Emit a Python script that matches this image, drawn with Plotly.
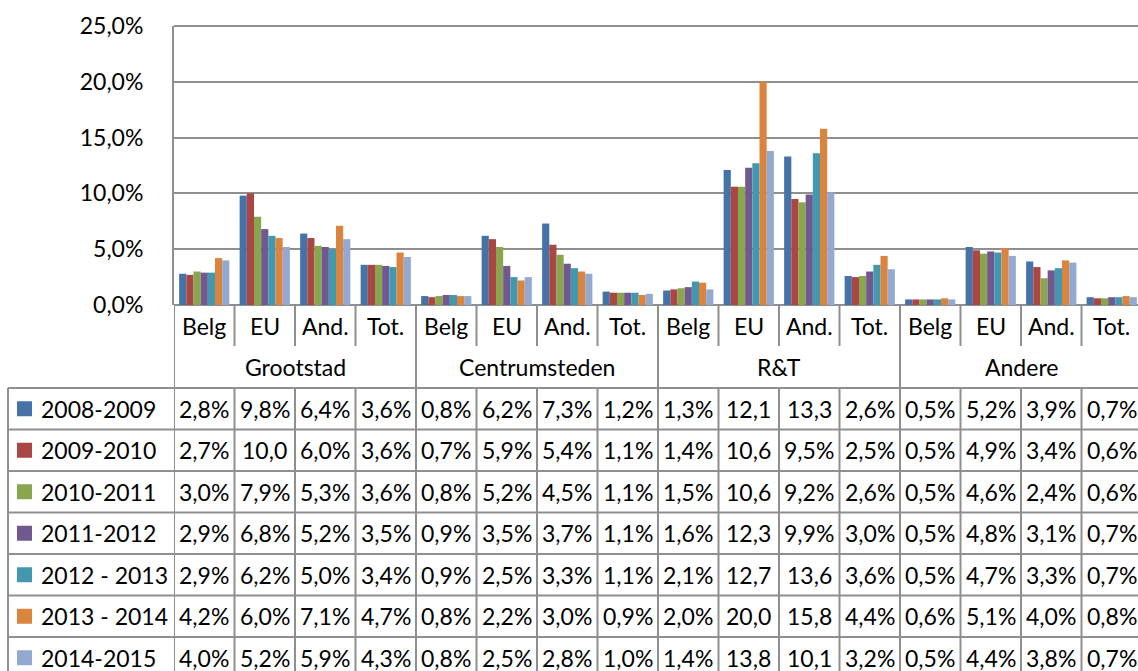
import plotly.graph_objects as go

# Data
groups = ["Grootstad", "Centrumsteden", "R&T", "Andere"]
subcats = ["Belg", "EU", "And.", "Tot."]
series_names = ["2008-2009", "2009-2010", "2010-2011", "2011-2012",
                "2012 - 2013", "2013 - 2014", "2014-2015"]

s2008 = [2.8, 9.8, 6.4, 3.6, 0.8, 6.2, 7.3, 1.2, 1.3, 12.1, 13.3, 2.6, 0.5, 5.2, 3.9, 0.7]
s2009 = [2.7, 10.0, 6.0, 3.6, 0.7, 5.9, 5.4, 1.1, 1.4, 10.6, 9.5, 2.5, 0.5, 4.9, 3.4, 0.6]
s2010 = [3.0, 7.9, 5.3, 3.6, 0.8, 5.2, 4.5, 1.1, 1.5, 10.6, 9.2, 2.6, 0.5, 4.6, 2.4, 0.6]
s2011 = [2.9, 6.8, 5.2, 3.5, 0.9, 3.5, 3.7, 1.1, 1.6, 12.3, 9.9, 3.0, 0.5, 4.8, 3.1, 0.7]
s2012 = [2.9, 6.2, 5.0, 3.4, 0.9, 2.5, 3.3, 1.1, 2.1, 12.7, 13.6, 3.6, 0.5, 4.7, 3.3, 0.7]
s2013 = [4.2, 6.0, 7.1, 4.7, 0.8, 2.2, 3.0, 0.9, 2.0, 20.0, 15.8, 4.4, 0.6, 5.1, 4.0, 0.8]
s2014 = [4.0, 5.2, 5.9, 4.3, 0.8, 2.5, 2.8, 1.0, 1.4, 13.8, 10.1, 3.2, 0.5, 4.4, 3.8, 0.7]
series_values = [s2008, s2009, s2010, s2011, s2012, s2013, s2014]

y_tickvals = [0, 5, 10, 15, 20, 25]
y_ticktext = ["0,0%", "5,0%", "10,0%", "15,0%", "20,0%", "25,0%"]

colors = ["#4572A7", "#AA4643", "#89A54E", "#71588F", "#4198AF", "#DB843D", "#93A9CF"]

FONT = "Lato, 'Open Sans', sans-serif"
FS = 23
LINE = "#8f8f8f"

# Pixel geometry (Excel layout)
W, H = 1138, 671
PL, PT, PB = 174, 26, 305          # plot left, top, bottom (px)
CAT_W = 60.5                        # category width (px)
ROW0, ROW_H = 388, 41.5             # data table top, row height


def py(p):
    return (PB - p) / (PB - PT)


def px(p):
    return (p - PL) / (W - PL)


def txt(**kw):
    d = dict(showarrow=False, yanchor="middle",
             font=dict(size=FS, family=FONT, color="black"))
    d.update(kw)
    return d


n = len(groups) * len(subcats)
xs = list(range(n))

fig = go.Figure()
for name, vals, c in zip(series_names, series_values, colors):
    fig.add_trace(go.Bar(x=xs, y=vals, name=name, marker_color=c,
                         marker_line_width=0, showlegend=False))


def fmt(v):
    s = f"{v:.1f}".replace(".", ",")
    return s if v >= 10 else s + "%"


shapes = []
annotations = []

# top gridline (at the range edge, would be clipped otherwise)
shapes.append(dict(type="line", xref="paper", yref="paper", x0=0, x1=1,
                   y0=1, y1=1, line=dict(color=LINE, width=2)))

# category + group labels
for i in xs:
    annotations.append(txt(x=i, y=py(326), xref="x", yref="paper", xanchor="center",
                           text=subcats[i % 4]))
for g, gname in enumerate(groups):
    annotations.append(txt(x=g * 4 + 1.5, y=py(367), xref="x", yref="paper",
                           xanchor="center", text=gname))

# vertical separators
for k in range(1, n + 1):
    if k % 4 == 0:
        shapes.append(dict(type="line", xref="x", yref="paper", x0=k - 0.5, x1=k - 0.5,
                           y0=py(PB), y1=py(H + 5), line=dict(color=LINE, width=2)))
    else:
        shapes.append(dict(type="line", xref="x", yref="paper", x0=k - 0.5, x1=k - 0.5,
                           y0=py(PB), y1=py(346), line=dict(color=LINE, width=2)))
        shapes.append(dict(type="line", xref="x", yref="paper", x0=k - 0.5, x1=k - 0.5,
                           y0=py(ROW0), y1=py(H + 5), line=dict(color=LINE, width=2)))
# y-axis line continued through table
shapes.append(dict(type="line", xref="x", yref="paper", x0=-0.5, x1=-0.5,
                   y0=py(PB), y1=py(H + 5), line=dict(color=LINE, width=2)))
# table left border
shapes.append(dict(type="line", xref="paper", yref="paper", x0=px(8), x1=px(8),
                   y0=py(ROW0), y1=py(H + 5), line=dict(color=LINE, width=2)))

# table rows
for r, (name, vals, c) in enumerate(zip(series_names, series_values, colors)):
    top = ROW0 + r * ROW_H
    mid = top + ROW_H / 2
    shapes.append(dict(type="line", xref="paper", yref="paper", x0=px(8), x1=1,
                       y0=py(top), y1=py(top), line=dict(color=LINE, width=2)))
    shapes.append(dict(type="rect", xref="paper", yref="paper", x0=px(17), x1=px(32),
                       y0=py(mid - 7.5), y1=py(mid + 7.5), fillcolor=c, line=dict(width=0)))
    annotations.append(txt(x=px(39), y=py(mid), xref="paper", yref="paper", text=name,
                           xanchor="left"))
    for i, v in enumerate(vals):
        annotations.append(txt(x=i, y=py(mid), xref="x", yref="paper", xanchor="center",
                               text=fmt(v)))

fig.update_layout(
    width=W, height=H,
    margin=dict(l=PL, r=0, t=PT, b=H - PB, pad=0),
    plot_bgcolor="white", paper_bgcolor="white",
    barmode="group", bargap=0.17, bargroupgap=0,
    showlegend=False,
    font=dict(family=FONT, size=FS, color="black"),
    xaxis=dict(range=[-0.5, -0.5 + (W - PL) / CAT_W], showticklabels=False,
               showgrid=False, zeroline=False, showline=False, ticks=""),
    yaxis=dict(range=[0, 25], tickvals=y_tickvals, ticktext=y_ticktext,
               showgrid=True, gridcolor=LINE, gridwidth=2, zeroline=True,
               zerolinecolor=LINE, zerolinewidth=2, showline=True, linecolor=LINE,
               linewidth=2, ticks="", ticklabelstandoff=24,
               tickfont=dict(size=FS, family=FONT, color="black")),
    shapes=shapes,
    annotations=annotations,
)

fig.write_html("out.html", config={"displayModeBar": False},
               post_script="document.body.style.margin='0';"
                           "document.body.style.overflow='hidden';")
